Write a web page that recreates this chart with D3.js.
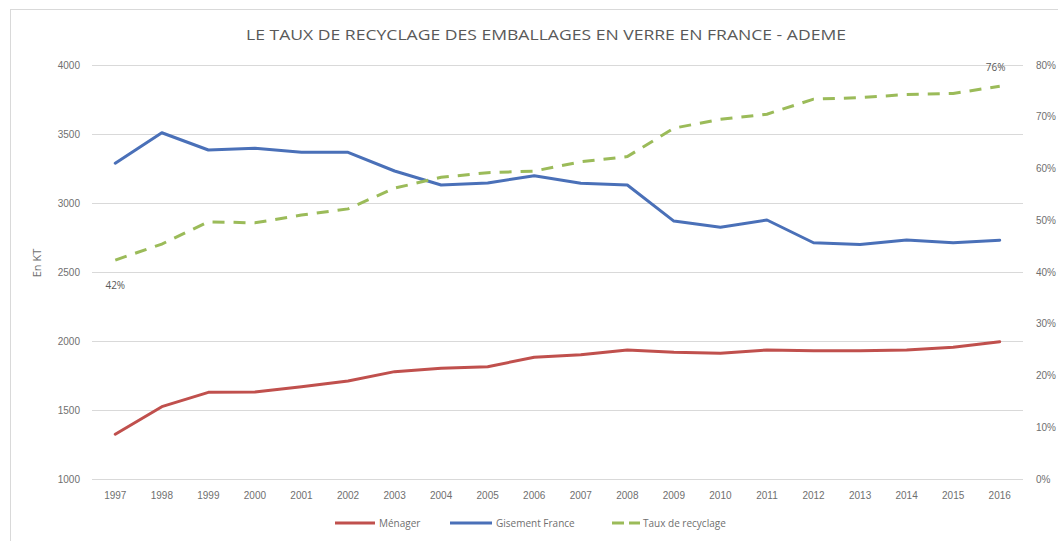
<!DOCTYPE html>
<html>
<head>
<meta charset="utf-8">
<script src="https://cdn.jsdelivr.net/npm/d3@7"></script>
<style>
  html, body { margin: 0; padding: 0; background: #fff; }
  svg { display: block; font-family: "Open Sans", "DejaVu Sans", sans-serif; }
</style>
</head>
<body>
<svg id="chart" width="1058" height="541"></svg>
<script>
const years = ["1997","1998","1999","2000","2001","2002","2003","2004","2005","2006","2007","2008","2009","2010","2011","2012","2013","2014","2015","2016"];
const menager = [1324,1524,1628,1630,1669,1710,1778,1802,1814,1882,1900,1935,1918,1911,1935,1930,1930,1935,1954,1995];
const gisement = [3288,3509,3384,3396,3367,3367,3232,3130,3145,3198,3143,3130,2869,2824,2877,2712,2700,2732,2712,2730];
const taux = [42.3,45.4,49.7,49.5,51.0,52.2,56.2,58.3,59.2,59.5,61.3,62.3,67.8,69.5,70.5,73.4,73.7,74.3,74.5,75.9];
const leftTicks = [1000,1500,2000,2500,3000,3500,4000];
const rightTicks = [0,10,20,30,40,50,60,70,80];
const seriesNames = ["Ménager","Gisement France","Taux de recyclage"];
const titleText = "LE TAUX DE RECYCLAGE DES EMBALLAGES EN VERRE EN FRANCE - ADEME";

const svg = d3.select("#chart");
const plot = {left: 92, right: 1023, top: 65, bottom: 479};

// chart border
svg.append("rect").attr("x", 10.5).attr("y", 9.5).attr("width", 1200).attr("height", 700)
  .attr("fill", "#fff").attr("stroke", "#d9d9d9");

const x = d3.scaleBand().domain(years).range([plot.left, plot.right]);
const xc = d => x(d) + x.bandwidth() / 2;
const yL = d3.scaleLinear().domain([1000, 4000]).range([plot.bottom, plot.top]);
const yR = d3.scaleLinear().domain([0, 80]).range([plot.bottom, plot.top]);

// gridlines
svg.append("g").selectAll("line").data(leftTicks).join("line")
  .attr("x1", plot.left).attr("x2", plot.right)
  .attr("y1", d => Math.round(yL(d)) + 0.5).attr("y2", d => Math.round(yL(d)) + 0.5)
  .attr("stroke", "#d9d9d9").attr("stroke-width", 1);

// left axis
const axL = svg.append("g").attr("transform", `translate(${plot.left - 12},0)`)
  .call(d3.axisLeft(yL).tickValues(leftTicks).tickSize(0).tickPadding(0).tickFormat(d3.format("d")));
axL.select(".domain").remove();
axL.selectAll("text").attr("fill", "#6f6f6f").style("font-size", "10px");

// right axis
const axR = svg.append("g").attr("transform", `translate(${plot.right + 13},0)`)
  .call(d3.axisRight(yR).tickValues(rightTicks).tickSize(0).tickPadding(0).tickFormat(d => d + "%"));
axR.select(".domain").remove();
axR.selectAll("text").attr("fill", "#6f6f6f").style("font-size", "10px");

// x axis
const axX = svg.append("g").attr("transform", `translate(0,${plot.bottom + 13})`)
  .call(d3.axisBottom(x).tickSize(0).tickPadding(0));
axX.select(".domain").remove();
axX.selectAll("text").attr("fill", "#6f6f6f").style("font-size", "10px");

// y title
svg.append("text").attr("transform", "translate(41,263) rotate(-90)")
  .attr("text-anchor", "middle").attr("fill", "#6f6f6f").style("font-size", "11px").text("En KT");

// title
svg.append("text").attr("x", 546).attr("y", 40).attr("text-anchor", "middle")
  .attr("fill", "#595959").style("font-size", "15px")
  .attr("textLength", 600).attr("lengthAdjust", "spacingAndGlyphs").text(titleText);

// lines
const lineL = d3.line().x((d, i) => xc(years[i])).y(d => yL(d));
const lineR = d3.line().x((d, i) => xc(years[i])).y(d => yR(d));
const colors = ["#c0504d", "#4a70b8", "#9bbb59"];

svg.append("path").datum(menager).attr("d", lineL).attr("fill", "none")
  .attr("stroke", colors[0]).attr("stroke-width", 3).attr("stroke-linejoin", "round").attr("stroke-linecap", "round");
svg.append("path").datum(gisement).attr("d", lineL).attr("fill", "none")
  .attr("stroke", colors[1]).attr("stroke-width", 3).attr("stroke-linejoin", "round").attr("stroke-linecap", "round");
svg.append("path").datum(taux).attr("d", lineR).attr("fill", "none")
  .attr("stroke", colors[2]).attr("stroke-width", 3).attr("stroke-dasharray", "12,9");

// data labels
svg.append("text").attr("x", xc(years[0])).attr("y", yR(taux[0]) + 29).attr("text-anchor", "middle")
  .attr("fill", "#595959").style("font-size", "10px").text(Math.round(taux[0]) + "%");
const last = taux.length - 1;
svg.append("text").attr("x", xc(years[last]) - 4).attr("y", yR(taux[last]) - 15).attr("text-anchor", "middle")
  .attr("fill", "#595959").style("font-size", "10px").text(Math.round(taux[last]) + "%");

// legend
const legY = 523;
const leg = [
  {x1: 335, x2: 375, tx: 379, dash: null},
  {x1: 450, x2: 492, tx: 496, dash: null},
  {x1: 612, x2: 640, tx: 643, dash: "12,5"}
];
leg.forEach((l, i) => {
  svg.append("line").attr("x1", l.x1).attr("x2", l.x2).attr("y1", legY).attr("y2", legY)
    .attr("stroke", colors[i]).attr("stroke-width", 3).attr("stroke-dasharray", l.dash);
  svg.append("text").attr("x", l.tx).attr("y", legY + 3.5).attr("fill", "#6f6f6f")
    .style("font-size", "10px").text(seriesNames[i]);
});
</script>
</body>
</html>
